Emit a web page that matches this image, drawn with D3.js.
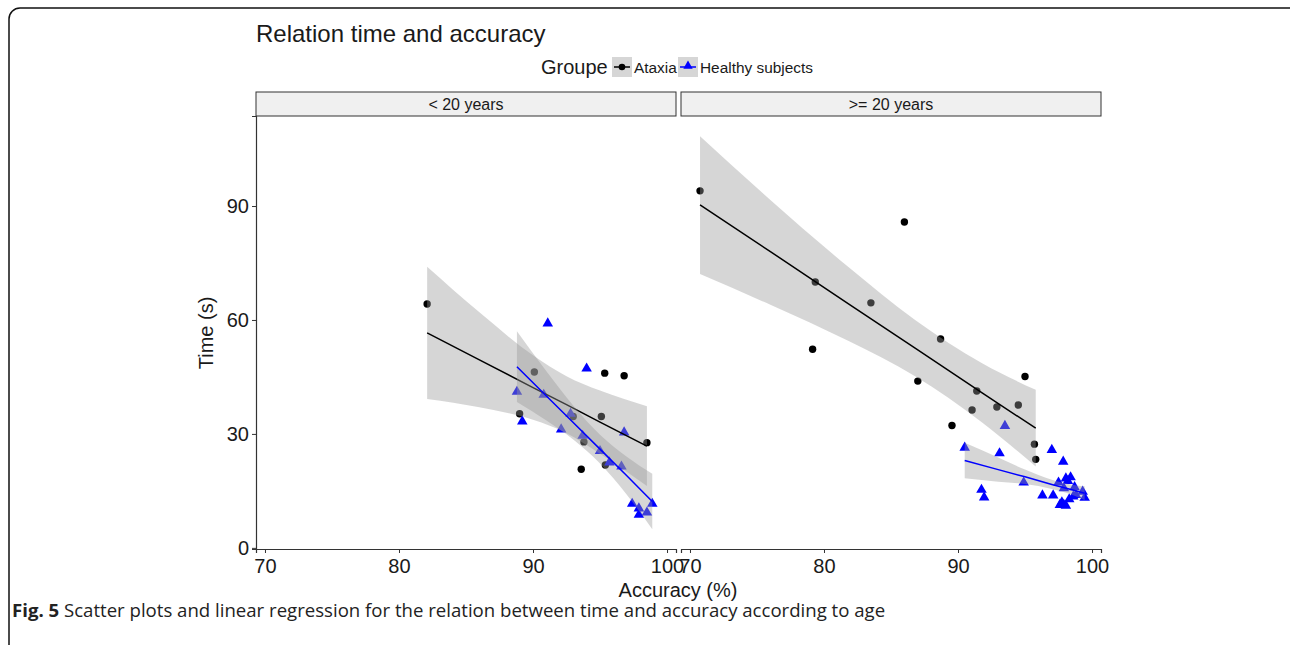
<!DOCTYPE html>
<html>
<head>
<meta charset="utf-8">
<script src="https://cdn.jsdelivr.net/npm/d3@7"></script>
<style>
  body { margin: 0; background: #fff; }
  text { font-family: "Liberation Sans", Arial, sans-serif; }
  text.caption { font-family: "Open Sans", "Noto Sans", sans-serif; }
</style>
</head>
<body>
<script>
// facets and groups
const panels = ["< 20 years", ">= 20 years"];
const groups = ["Ataxia", "Healthy subjects"];
const xTicks = [70, 80, 90, 100];
const yTicks = [0, 30, 60, 90];

// < 20 years, ataxia
const youngAtaxiaAcc  = [82.1, 89.0, 90.1, 95.35, 96.8, 95.1, 93.0, 93.8, 93.6, 98.5, 95.4];
const youngAtaxiaTime = [64.2, 35.3, 46.3, 46.0, 45.3, 34.6, 34.6, 27.9, 20.7, 27.7, 21.8];
// < 20 years, healthy
const youngHealthyAcc  = [91.1, 94.0, 88.8, 89.2, 90.8, 92.8, 92.1, 93.7, 95.0, 95.7, 96.6, 96.8, 97.4, 97.9, 97.9, 98.5, 98.9];
const youngHealthyTime = [59.1, 47.2, 41.1, 33.3, 40.3, 35.3, 31.2, 29.5, 25.5, 22.5, 21.4, 30.4, 11.6, 10.4, 8.7, 9.3, 11.6];
// >= 20 years, ataxia
const oldAtaxiaAcc  = [70.75, 86.0, 79.35, 83.5, 79.15, 88.7, 87.0, 95.0, 91.4, 91.05, 92.9, 94.5, 89.55, 95.7, 95.8];
const oldAtaxiaTime = [94.0, 85.8, 70.0, 64.5, 52.3, 55.0, 43.9, 45.1, 41.3, 36.3, 37.1, 37.6, 32.2, 27.3, 23.3];
// >= 20 years, healthy
const oldHealthyAcc  = [93.5, 90.5, 93.1, 97.0, 97.85, 91.75, 91.95, 94.9, 96.3, 97.1, 97.5, 98.05, 98.4, 98.2, 98.7, 99.3, 99.45, 97.6, 97.9, 98.05, 98.3, 98.8, 97.9, 98.6, 97.75];
const oldHealthyTime = [32.1, 26.4, 24.9, 25.8, 22.7, 15.3, 13.3, 17.2, 13.8, 13.8, 17.2, 18.3, 18.6, 17.6, 16.0, 14.8, 13.2, 11.3, 11.3, 11.1, 12.8, 13.9, 15.7, 13.5, 12.0];

// fitted lines with confidence band
const youngAtaxiaFitX  = [82.1, 86, 90, 92.5, 95, 98.5];
const youngAtaxiaFit   = [56.6, 49.5, 42.2, 37.7, 33.1, 26.8];
const youngAtaxiaHi    = [74.0, 62.0, 50.7, 45.2, 41.4, 37.3];
const youngAtaxiaLo    = [39.2, 37.0, 33.7, 30.2, 24.8, 16.3];
const youngHealthyFitX = [88.8, 91, 93, 95, 97, 98.9];
const youngHealthyFit  = [47.7, 40.0, 33.0, 26.0, 19.0, 12.2];
const youngHealthyHi   = [57.0, 46.5, 37.5, 29.8, 24.0, 19.5];
const youngHealthyLo   = [38.4, 33.5, 28.5, 22.2, 14.0, 4.9];
const oldAtaxiaFitX    = [70.75, 76, 81.8, 86.8, 91.8, 95.8];
const oldAtaxiaFit     = [90.3, 78.0, 64.3, 52.6, 40.8, 31.5];
const oldAtaxiaHi      = [108.4, 91.6, 74.0, 60.0, 48.6, 41.6];
const oldAtaxiaLo      = [72.1, 64.0, 54.5, 45.2, 33.0, 21.4];
const oldHealthyFitX   = [90.5, 93, 95, 97, 98.5, 99.45];
const oldHealthyFit    = [23.0, 20.6, 18.7, 16.7, 15.3, 14.4];
const oldHealthyHi     = [27.7, 23.8, 20.6, 17.9, 16.6, 16.2];
const oldHealthyLo     = [18.3, 17.4, 16.8, 15.5, 14.0, 12.6];

const width = 1290;
const height = 645;
const colors = {"Ataxia": "#000000", "Healthy subjects": "#0000ff"};

const svg = d3.select("body").append("svg")
    .attr("width", width)
    .attr("height", height);

// figure frame (rounded, running off the page)
svg.append("rect")
    .attr("x", 9).attr("y", 8)
    .attr("width", 1300).attr("height", 700)
    .attr("rx", 11)
    .attr("fill", "none")
    .attr("stroke", "#111")
    .attr("stroke-width", 1.5);

const yScale = d3.scaleLinear().domain([-0.3, 113.7]).range([549, 116]);
const panelX = [[256, 676], [681, 1101]];

const data = [
  {
    points: [
      {group: "Ataxia", acc: youngAtaxiaAcc, time: youngAtaxiaTime},
      {group: "Healthy subjects", acc: youngHealthyAcc, time: youngHealthyTime}
    ],
    fits: [
      {group: "Ataxia", x: youngAtaxiaFitX, fit: youngAtaxiaFit, hi: youngAtaxiaHi, lo: youngAtaxiaLo},
      {group: "Healthy subjects", x: youngHealthyFitX, fit: youngHealthyFit, hi: youngHealthyHi, lo: youngHealthyLo}
    ]
  },
  {
    points: [
      {group: "Ataxia", acc: oldAtaxiaAcc, time: oldAtaxiaTime},
      {group: "Healthy subjects", acc: oldHealthyAcc, time: oldHealthyTime}
    ],
    fits: [
      {group: "Ataxia", x: oldAtaxiaFitX, fit: oldAtaxiaFit, hi: oldAtaxiaHi, lo: oldAtaxiaLo},
      {group: "Healthy subjects", x: oldHealthyFitX, fit: oldHealthyFit, hi: oldHealthyHi, lo: oldHealthyLo}
    ]
  }
];

const triangle = d3.symbol().type(d3.symbolTriangle).size(48);

panels.forEach((label, i) => {
    const xScale = d3.scaleLinear()
        .domain([69.33, 100.67])
        .range(panelX[i]);
    const g = svg.append("g");

    // strip
    g.append("rect")
        .attr("x", panelX[i][0]).attr("y", 92)
        .attr("width", panelX[i][1] - panelX[i][0]).attr("height", 24)
        .attr("fill", "#f0f0f0")
        .attr("stroke", "#333")
        .attr("stroke-width", 1);
    g.append("text")
        .attr("x", (panelX[i][0] + panelX[i][1]) / 2)
        .attr("y", 110)
        .attr("text-anchor", "middle")
        .attr("font-size", 16)
        .attr("fill", "#1a1a1a")
        .text(label);

    // points first, smooths on top (ggplot layer order)
    data[i].points.forEach(s => {
        const pts = s.acc.map((a, k) => [a, s.time[k]]);
        if (s.group === "Ataxia") {
            g.selectAll(null).data(pts).enter().append("circle")
                .attr("cx", d => xScale(d[0]))
                .attr("cy", d => yScale(d[1]))
                .attr("r", 3.7)
                .attr("fill", colors[s.group]);
        } else {
            g.selectAll(null).data(pts).enter().append("path")
                .attr("d", triangle)
                .attr("transform", d => `translate(${xScale(d[0])},${yScale(d[1])})`)
                .attr("fill", colors[s.group]);
        }
    });

    data[i].fits.forEach(f => {
        const rows = f.x.map((x, k) => ({x: x, fit: f.fit[k], hi: f.hi[k], lo: f.lo[k]}));
        g.append("path")
            .datum(rows)
            .attr("d", d3.area().curve(d3.curveMonotoneX)
                .x(d => xScale(d.x)).y0(d => yScale(d.lo)).y1(d => yScale(d.hi)))
            .attr("fill", "#999999")
            .attr("fill-opacity", 0.4);
        g.append("path")
            .datum(rows)
            .attr("d", d3.line().x(d => xScale(d.x)).y(d => yScale(d.fit)))
            .attr("fill", "none")
            .attr("stroke", colors[f.group])
            .attr("stroke-width", 1.5);
    });

    // x axis
    const xAxis = d3.axisBottom(xScale).tickValues(xTicks).tickSizeOuter(0).tickSize(4).tickPadding(6);
    const ax = g.append("g")
        .attr("transform", "translate(0,549)")
        .call(xAxis);
    ax.select(".domain").attr("stroke", "#333").attr("stroke-width", 1.2);
    ax.selectAll(".tick line").attr("stroke", "#333");
    ax.selectAll(".tick text").attr("font-size", 20).attr("fill", "#1a1a1a")
        .attr("font-family", null);
});

// y axis (left panel only)
const yAxis = d3.axisLeft(yScale).tickValues(yTicks).tickSizeOuter(0).tickSize(4).tickPadding(3);
const ay = svg.append("g")
    .attr("transform", "translate(256,0)")
    .call(yAxis);
ay.select(".domain").attr("stroke", "#333").attr("stroke-width", 1.2);
ay.selectAll(".tick line").attr("stroke", "#333");
ay.selectAll(".tick text").attr("font-size", 20).attr("fill", "#1a1a1a")
    .attr("font-family", null);

// axis titles
svg.append("text")
    .attr("transform", "translate(213,333) rotate(-90)")
    .attr("text-anchor", "middle")
    .attr("font-size", 20)
    .attr("fill", "#1a1a1a")
    .text("Time (s)");
svg.append("text")
    .attr("x", 678).attr("y", 597)
    .attr("text-anchor", "middle")
    .attr("font-size", 20)
    .attr("fill", "#1a1a1a")
    .text("Accuracy (%)");

// title
svg.append("text")
    .attr("x", 256).attr("y", 42)
    .attr("font-size", 24)
    .attr("fill", "#1a1a1a")
    .text("Relation time and accuracy");

// legend
const legend = svg.append("g");
legend.append("text")
    .attr("x", 541).attr("y", 74)
    .attr("font-size", 20)
    .attr("fill", "#1a1a1a")
    .text("Groupe");
const keyX = [612, 678];
groups.forEach((grp, k) => {
    const kx = keyX[k];
    legend.append("rect")
        .attr("x", kx).attr("y", 57).attr("width", 20).attr("height", 20)
        .attr("fill", "#d6d6d6");
    legend.append("line")
        .attr("x1", kx + 2).attr("x2", kx + 18)
        .attr("y1", 67).attr("y2", 67)
        .attr("stroke", colors[grp]).attr("stroke-width", 1.5);
    if (grp === "Ataxia") {
        legend.append("circle").attr("cx", kx + 10).attr("cy", 67).attr("r", 3.3).attr("fill", colors[grp]);
    } else {
        legend.append("path").attr("d", d3.symbol().type(d3.symbolTriangle).size(38))
            .attr("transform", `translate(${kx + 10},66)`).attr("fill", colors[grp]);
    }
    legend.append("text")
        .attr("x", kx + 22).attr("y", 72.5)
        .attr("font-size", 15.4)
        .attr("fill", "#1a1a1a")
        .text(grp);
});

// caption
const cap = svg.append("text")
    .attr("class", "caption")
    .attr("x", 12).attr("y", 617)
    .attr("font-size", 18.6)
    .attr("fill", "#222");
cap.append("tspan").attr("font-weight", "bold").text("Fig. 5");
cap.append("tspan").text(" Scatter plots and linear regression for the relation between time and accuracy according to age");
</script>
</body>
</html>
